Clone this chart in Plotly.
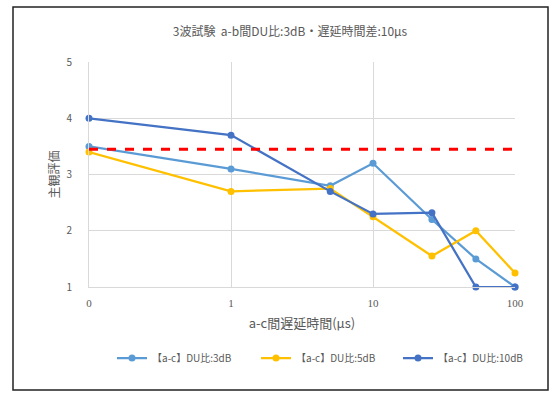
import plotly.graph_objects as go

delay_us = [0.1, 1, 5, 10, 26, 53, 100]
du3 = [3.5, 3.1, 2.8, 3.2, 2.2, 1.5, 1.0]
du5 = [3.4, 2.7, 2.75, 2.25, 1.55, 2.0, 1.25]
du10 = [4.0, 3.7, 2.7, 2.3, 2.32, 1.0, 1.0]
ref_x = [0.1, 100]
ref_y = [3.45, 3.45]

x_tickvals = [0.1, 1, 10, 100]
x_ticktext = ["0", "1", "10", "100"]
y_tickvals = [1, 2, 3, 4, 5]

names = ["【a-c】DU比:3dB", "【a-c】DU比:5dB", "【a-c】DU比:10dB"]
colors = ["#5B9BD5", "#FFC000", "#4472C4"]

font_jp = "Noto Sans CJK JP"
gray = "#595959"

L, R, T, B = 89, 515, 62, 287
W, H = 555, 393

def px2paper_x(px):
    return (px - L) / (R - L)

def px2paper_y(py):
    return (B - py) / (B - T)

legend_ids = ["legend", "legend2", "legend3"]
legend_px = [112, 256, 398]

fig = go.Figure()
for ys, nm, c, lg in zip([du3, du5, du10], names, colors, legend_ids):
    fig.add_trace(go.Scatter(
        x=delay_us, y=ys, name=nm, mode="lines+markers",
        line=dict(color=c, width=2.25),
        marker=dict(color=c, size=7, symbol="circle"),
        legend=lg, cliponaxis=False,
    ))

fig.add_trace(go.Scatter(
    x=ref_x, y=ref_y, mode="lines", showlegend=False,
    line=dict(color="#FF0000", width=3, dash="dash"),
    hoverinfo="skip", cliponaxis=False,
))

fig.add_shape(type="rect", xref="paper", yref="paper",
              x0=px2paper_x(13), x1=px2paper_x(548),
              y0=px2paper_y(390), y1=px2paper_y(7),
              line=dict(color="#222222", width=1.5), fillcolor="rgba(0,0,0,0)",
              layer="below")

legend_common = dict(orientation="h", xanchor="left", yanchor="middle",
                     y=px2paper_y(358),
                     font=dict(family=font_jp, size=10, color=gray),
                     itemwidth=30, bgcolor="rgba(0,0,0,0)")

fig.update_layout(
    width=W, height=H,
    margin=dict(l=L, r=W - R, t=T, b=H - B),
    paper_bgcolor="white", plot_bgcolor="white",
    title=dict(text="3波試験  a-b間DU比:3dB・遅延時間差:10μs",
               x=(290) / W, xanchor="center", y=1 - 32 / H, yanchor="middle",
               font=dict(family=font_jp, size=12, color=gray)),
    xaxis=dict(type="log", range=[-1, 2], tickvals=x_tickvals, ticktext=x_ticktext,
               showgrid=True, gridcolor="#d9d9d9", gridwidth=1,
               showline=True, linecolor="#d9d9d9", mirror=False,
               zeroline=False, ticks="", ticklabelstandoff=6,
               tickfont=dict(family="Liberation Serif", size=11, color=gray),
               title=dict(text="a-c間遅延時間(μs)", standoff=10,
                          font=dict(family=font_jp, size=13, color=gray))),
    yaxis=dict(range=[1, 5], tickvals=y_tickvals,
               showgrid=True, gridcolor="#d9d9d9", gridwidth=1,
               showline=True, linecolor="#d9d9d9",
               zeroline=False, ticks="", ticklen=0, ticklabelstandoff=14,
               tickfont=dict(family=font_jp, size=10, color=gray),
               title=dict(text="主観評価", standoff=4,
                          font=dict(family=font_jp, size=12, color=gray))),
    legend=dict(x=px2paper_x(legend_px[0]), **legend_common),
    legend2=dict(x=px2paper_x(legend_px[1]), **legend_common),
    legend3=dict(x=px2paper_x(legend_px[2]), **legend_common),
    showlegend=True,
)

fig.write_html("out.html", config={"displayModeBar": False},
               post_script="document.body.style.margin='0';document.body.style.overflow='hidden';")
